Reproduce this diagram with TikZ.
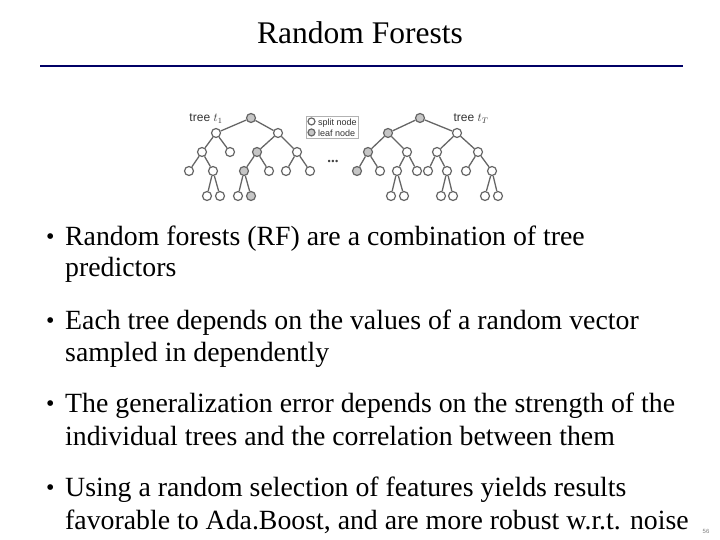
\documentclass[tikz,border=0pt]{standalone}
\usepackage{fontspec}
\setmainfont{Liberation Serif}
\newfontfamily\sansf{Liberation Sans}
\begin{document}
\begin{tikzpicture}[x=1pt,y=-1pt,
 tn/.style={circle,draw=gray!80!black,line width=1.2pt,fill=white,inner sep=0pt,minimum size=9pt},
 gn/.style={tn,fill=gray!45},
 ed/.style={draw=gray!80!black,line width=1.3pt},
 bul/.style={anchor=base west,font=\fontsize{27.8}{30}\selectfont,inner sep=0pt}]
\useasboundingbox (0,0) rectangle (720,540);
\node[font=\fontsize{31.5}{34}\selectfont] (title) at (360,33) {Random Forests};
\draw[line width=2.5pt,color=blue!40!black] (40,66) -- (683,66);
% tree 1
\foreach \n/\x/\y/\s in {a/251/118/gn,b/216/133/tn,c/278/133/tn,d/202/152/tn,e/230/152/tn,f/257/152/gn,g/297/152/tn,
 h/189/171/tn,i/213/171/tn,j/244/171/gn,k/269/171/tn,l/286/171/tn,m/310/171/tn,
 n/207/196/tn,o/220/196/tn,p/238/196/tn,q/251/196/gn}
 \node[\s] (A\n) at (\x,\y) {};
\foreach \u/\v in {a/b,a/c,b/d,b/e,c/f,c/g,d/h,d/i,f/j,f/k,g/l,g/m,i/n,i/o,j/p,j/q}
 \draw[ed] (A\u) -- (A\v);
% tree 2
\foreach \n/\x/\y/\s in {a/420/118/gn,b/388/133/gn,c/457/133/tn,d/368/152/gn,e/407/152/tn,f/437/152/tn,g/478/152/tn,
 h/357/171/gn,i/380/171/tn,j/397/171/tn,k/417/171/tn,l/428/171/tn,m/447/171/tn,r/466/171/tn,s/492/171/tn,
 n/391/196/tn,o/404/196/tn,p/441/196/tn,q/453/196/tn,t/485/196/tn,u/498/196/tn}
 \node[\s] (B\n) at (\x,\y) {};
\foreach \u/\v in {a/b,a/c,b/d,b/e,c/f,c/g,d/h,d/i,e/j,e/k,f/l,f/m,g/r,g/s,j/n,j/o,m/p,m/q,s/t,s/u}
 \draw[ed] (B\u) -- (B\v);
\node[font=\sansf\fontsize{12}{14}\selectfont,text=gray!40!black] (t1) at (206,119) {tree $t_1$};
\node[font=\sansf\fontsize{12}{14}\selectfont,text=gray!40!black] (tT) at (471,119) {tree $t_T$};
\node[font=\bfseries\fontsize{15}{15}\selectfont,text=gray!50!black] (dots) at (333,161) {...};
\node[draw=gray!60,inner sep=1.5pt,align=left,font=\sansf\fontsize{9}{11}\selectfont,text=gray!40!black] (leg) at (332,127)
 {\tikz\node[tn,minimum size=7pt]{};\ split node\\\tikz\node[gn,minimum size=7pt]{};\ leaf node};
% bullets
\foreach \y/\t in {236/Random forests (RF) are a combination of tree,267/predictors,
 320/Each tree depends on the values of a random vector,352/sampled in dependently,
 403/The generalization error depends on the strength of the,436/individual trees and the correlation between them,
 487/Using a random selection of features yields results,520/{favorable to Ada.Boost, and are more robust w.r.t. noise}}
 \node[bul] at (65,\y+9) {\t};
\foreach \y in {236,320,403,487}
 \node[bul,font=\fontsize{24}{24}\selectfont] at (46,\y+8) {•};
\node[font=\sansf\fontsize{6}{6}\selectfont,text=gray] (pg) at (706,531) {56};
\end{tikzpicture}
\end{document}
